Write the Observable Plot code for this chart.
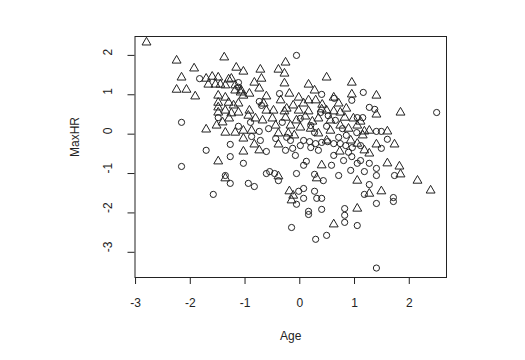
<!DOCTYPE html>
<html><head><meta charset="utf-8">
<script src="https://cdn.jsdelivr.net/npm/d3@7"></script>
<script src="https://cdn.jsdelivr.net/npm/@observablehq/plot@0.6"></script>
<style>body{margin:0;background:#fff}</style>
</head><body><div id="chart"></div>
<script>
// Triangles (group "No")
const triAge = [
-2.80,-2.25,-1.38,-1.93,-2.16,-2.25,-2.07,-1.91,-1.71,-1.60,
-1.49,-1.30,-1.25,-1.67,-1.54,-1.45,-1.36,-1.18,-1.49,-1.36,
-1.18,-1.08,-1.49,-1.30,-1.21,-1.12,-1.49,-1.36,-1.25,-1.49,
-1.12,-1.16,-1.03,-0.72,-0.39,-0.28,-0.26,-0.83,-0.70,-0.28,
0.16,0.49,-0.74,0.27,-1.07,-0.92,-0.19,-0.61,-0.02,0.62,
0.16,-0.92,-0.61,-0.48,-0.28,-0.02,0.16,0.40,0.49,0.62,
0.74,-1.03,0.95,0.95,1.40,1.40,1.84,0.85,1.05,1.27,
1.18,1.60,1.73,1.40,1.18,1.27,1.05,1.60,1.82,1.84,
1.05,2.15,2.39,1.27,1.49,1.05,0.62,-0.88,-1.03,-1.03,
-0.83,-0.74,-1.03,-0.39,-0.21,-0.10,-0.39,0.49,0.73,0.40,
-0.39,0.31,-0.19,-0.12,-0.15,-1.71,-1.52,-1.36,-1.18,-1.49,
-1.36,-0.50,-0.26,-0.06,0.10,0.23,0.34,0.56,0.74,-0.17,
0.01,-0.44,-0.68,-0.81,-0.94,0.07,0.29,0.41,0.71,0.82,
0.56,0.20,0.34,-0.66,-0.35,-0.12,-0.24,0.98,0.89,1.11,
1.15,0.93,-1.29,-1.41];
const triMaxHR = [
2.33,1.87,1.95,1.67,1.44,1.13,1.13,0.96,1.41,1.46,
1.44,1.39,1.41,1.26,1.26,1.26,1.24,1.24,0.98,0.93,
1.11,1.06,0.80,0.80,0.73,0.78,0.68,0.60,0.53,0.55,
0.55,1.69,1.59,1.64,1.64,1.54,1.82,1.31,1.41,1.29,
1.26,1.44,1.16,1.11,1.11,1.03,1.03,0.96,0.93,0.93,
0.86,0.60,0.60,0.60,0.58,0.60,0.58,0.63,0.60,0.58,
0.55,0.98,1.31,1.01,0.98,0.50,0.55,0.65,0.22,0.09,
0.07,0.07,-0.26,-0.26,-0.41,-0.49,-0.24,-0.74,-0.82,-1.02,
-1.18,-1.18,-1.43,-1.51,-1.45,-1.89,-2.29,0.09,0.09,-0.11,
-0.26,-0.41,-0.44,0.02,0.02,-0.03,-0.26,-0.16,-0.44,-0.79,
-1.07,-1.12,-1.45,-1.56,-1.68,0.12,0.22,0.04,0.04,-0.69,
-1.12,0.40,0.42,0.35,0.45,0.32,0.40,0.35,0.22,0.22,
0.17,0.22,0.35,0.40,0.47,0.78,0.86,0.75,0.78,0.42,
0.09,0.14,0.02,0.78,0.86,0.73,0.65,0.40,0.14,0.32,
-0.03,-0.16,0.40,0.30];
// Circles (group "Yes")
const circAge = [
-0.06,-1.83,-0.37,0.40,0.63,-0.74,-0.70,0.95,1.16,1.27,
1.37,1.05,1.15,2.50,-1.12,-1.12,-2.16,-1.27,-1.71,-1.27,
-2.16,-1.36,-1.27,-1.58,-1.49,-1.12,-0.74,-0.88,-0.61,-1.03,
-0.24,0.07,0.18,0.29,0.40,0.51,0.62,0.74,0.84,0.20,
0.34,0.01,-0.13,0.62,0.12,0.07,0.58,-0.55,-0.46,-0.61,
-0.39,-0.06,0.27,0.43,0.71,-0.94,-0.83,-0.02,0.07,0.07,
0.27,0.31,0.40,1.40,1.49,1.60,1.49,0.95,1.05,1.27,
1.40,1.73,1.18,1.40,1.27,1.18,1.71,1.71,1.40,0.82,
0.82,0.82,1.05,1.40,-0.06,0.16,0.16,0.40,-0.15,0.49,
0.29,0.38,0.52,0.65,0.78,0.85,0.01,0.20,-0.32,-0.57,
-0.44,-0.17,-0.72,-0.90,0.49,0.27,0.71,0.96,0.89,1.04,
1.11,-0.26,-0.08,0.80,0.93,1.11];
const circMaxHR = [
2.00,1.41,1.03,1.01,0.91,0.83,0.73,0.86,1.06,0.68,
0.63,0.42,0.42,0.55,1.31,1.19,0.30,-0.26,-0.41,-0.57,
-0.82,-1.05,-1.25,-1.53,0.42,0.20,0.07,-0.06,-0.44,-0.74,
-0.08,-0.16,-0.19,-0.24,-0.21,-0.19,-0.24,-0.24,-0.29,-0.34,
-0.41,-0.29,-0.36,-0.54,-0.69,-0.79,-0.79,-0.95,-1.00,-1.00,
-1.18,-1.00,-1.02,-1.18,-1.05,-1.25,-1.33,-1.45,-1.38,-1.63,
-1.45,-1.63,-1.63,0.07,0.07,-0.13,-0.36,-0.57,-0.74,-0.74,
-0.87,-1.05,-0.95,-1.05,-1.28,-1.53,-1.61,-1.71,-1.76,-1.89,
-2.06,-2.24,-2.32,-3.40,-1.78,-1.96,-2.04,-1.91,-2.37,-2.57,
-2.67,0.55,0.47,0.35,0.14,-0.03,0.40,0.22,0.30,0.14,
-0.11,-0.16,-0.16,0.30,0.20,0.04,-0.08,-0.34,-0.46,0.04,
-0.29,-0.41,-0.54,-0.67,-0.92,-0.67];

const xTicks = [-3, -2, -1, 0, 1, 2];
const yTicks = [-3, -2, -1, 0, 1, 2];
const xTitle = "Age";
const yTitle = "MaxHR";

const data = [
  ...triAge.map((a, i) => ({age: a, maxhr: triMaxHR[i], group: "No"})),
  ...circAge.map((a, i) => ({age: a, maxhr: circMaxHR[i], group: "Yes"}))
];

const ink = "#222";
const chart = Plot.plot({
  width: 525, height: 360,
  marginLeft: 134.5, marginRight: 79, marginTop: 36, marginBottom: 83,
  style: {fontFamily: "'Liberation Sans', Arial, Helvetica, sans-serif", fontSize: "12px", background: "#fff", color: ink},
  x: {domain: [-3.01, 2.68]},
  y: {domain: [-3.64, 2.48]},
  marks: [
    Plot.frame({stroke: ink}),
    Plot.axisX(xTicks, {tickSize: 7, tickPadding: 14, tickFormat: d => String(d), label: null, stroke: ink, fill: ink, fontSize: 12}),
    Plot.axisY(yTicks, {tickSize: 7, tickFormat: () => "", label: null, stroke: ink}),
    Plot.text(yTicks, {y: d => d, text: d => String(d), frameAnchor: "left", dx: -27, rotate: -90, fontSize: 12, fill: ink}),
    Plot.text([xTitle], {text: d => d, frameAnchor: "bottom", dy: 62, fontSize: 12, fill: ink}),
    Plot.text([yTitle], {text: d => d, frameAnchor: "left", dx: -60, rotate: -90, fontSize: 12, fill: ink}),
    Plot.dot(data, {filter: d => d.group === "No", x: "age", y: "maxhr", symbol: "triangle", r: 3.3, stroke: ink, strokeWidth: 1, fill: "none"}),
    Plot.dot(data, {filter: d => d.group === "Yes", x: "age", y: "maxhr", symbol: "circle", r: 3.1, stroke: ink, strokeWidth: 1, fill: "none"})
  ]
});
document.getElementById("chart").appendChild(chart);
</script>
</body></html>
